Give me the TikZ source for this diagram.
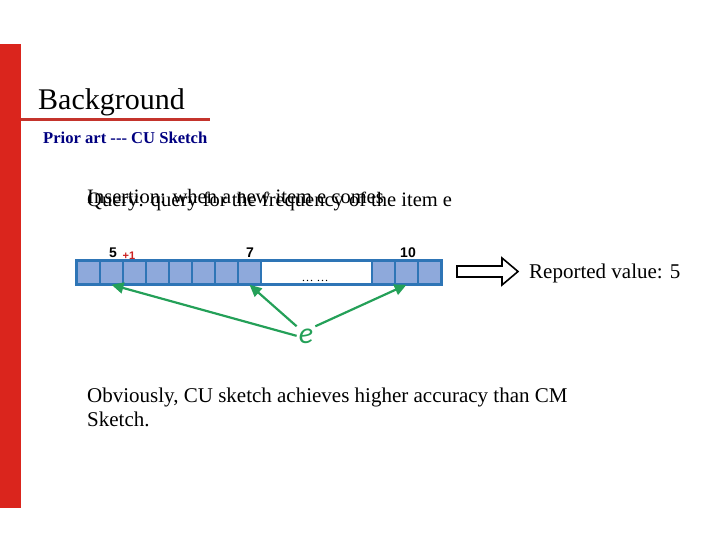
\documentclass[tikz,border=0pt]{standalone}
\usepackage{fontspec}
\setmainfont{Liberation Serif}
\newfontfamily\arialfont{Liberation Sans}
\newfontfamily\calibrifont{Carlito}
\usetikzlibrary{arrows.meta,positioning}

\definecolor{barred}{RGB}{218,37,29}
\definecolor{rulered}{RGB}{196,52,44}
\definecolor{navy}{RGB}{0,0,128}
\definecolor{cellfill}{RGB}{142,169,219}
\definecolor{cellline}{RGB}{46,117,182}
\definecolor{hashgreen}{RGB}{36,160,88}
\definecolor{plusred}{RGB}{204,32,32}

\begin{document}
\begin{tikzpicture}[x=1pt, y=-1pt, >=Latex]
        \tikzset{
          txt/.style={inner sep=0pt, anchor=base west, font=\fontsize{21}{24}\selectfont},
          cell/.style={draw=cellline, fill=cellfill, line width=1.5pt, minimum width=23pt, minimum height=23pt, inner sep=0pt},
          count/.style={inner sep=0pt, anchor=base, font=\arialfont\bfseries\fontsize{14}{16}\selectfont},
          hash/.style={->, hashgreen, line width=2.2pt, >={Triangle[length=12pt,width=11pt]}}
        }
        \useasboundingbox (0,0) rectangle (720,540);

        % slide frame
        \fill[barred] (0,44) rectangle (21,508);
        \node[txt, font=\fontsize{30}{34}\selectfont] (title) at (38,110) {Background};
        \draw[rulered, line width=3pt] (21,120) -- (210,120);
        \node[txt, font=\bfseries\fontsize{16.6}{18}\selectfont, text=navy] (sub) at (43,144) {Prior art -{}-{}- CU Sketch};

        % the two captions lie on top of each other
        \node[txt, font=\fontsize{20.5}{24}\selectfont] (ins) at (87,204) {Insertion: when a new item e comes};
        \node[txt, font=\fontsize{20.5}{24}\selectfont] (qry) at (87,207) {Query: query for the frequency of the item e};

        % counters
        \foreach \i in {1,...,8}
          \node[cell] (c\i) at ({65.5+23*\i},272.5) {};
        \node[draw=cellline, fill=white, line width=1.5pt, minimum width=111pt, minimum height=23pt, inner sep=0pt] (gap) at (316.5,272.5) {};
        \foreach \i in {9,10,11}
          \node[cell] (c\i) at ({176.5+23*\i},272.5) {};
        \draw[cellline, line width=3pt] (c1.north west) rectangle (c11.south east);
        \node[inner sep=0pt, anchor=base, font=\fontsize{12}{14}\selectfont] (dots) at (315,281) {\ldots\ \ldots};

        \node[count] (v5) at (113,257) {5};
        \node[count, font=\arialfont\bfseries\fontsize{11}{12}\selectfont, text=plusred] (inc) at (129,259) {+1};
        \node[count] (v7) at (250,257) {7};
        \node[count] (v10) at (408,257) {10};

        % hashed item
        \node[inner sep=2pt, anchor=base, font=\calibrifont\itshape\fontsize{30}{32}\selectfont, text=hashgreen] (e) at (306,343) {e};
        \draw[hash] (e.west) -- (c2.south);
        \draw[hash] (e.north west) -- (c8.south);
        \draw[hash] (e.north east) -- (c10.south);

        % result
        \draw[line width=1.6pt, line join=miter] (457,266) -- (502,266) -- (502,258) -- (518,271.5)
          -- (502,285) -- (502,277) -- (457,277) -- cycle;
        \node[txt] (rep) at (529,278) {Reported value: 5};

        \node[txt, align=left] (obv) at (87,426) {Obviously, CU sketch achieves higher accuracy than CM\\Sketch.};
    \end{tikzpicture}
\end{document}
